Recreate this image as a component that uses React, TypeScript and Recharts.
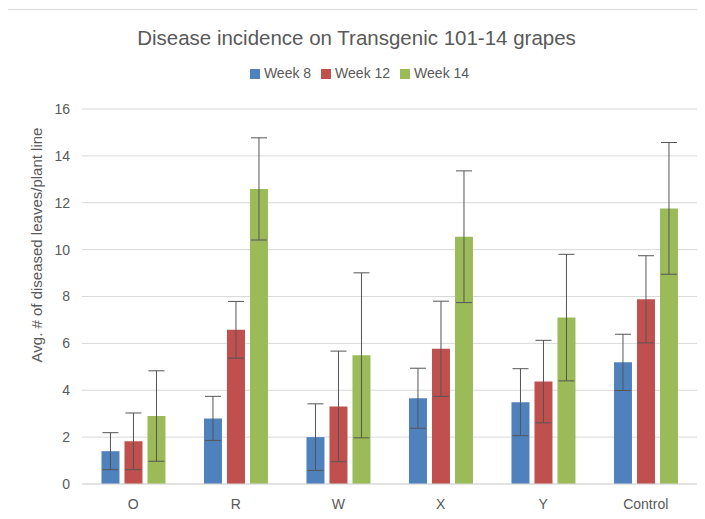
import {
  Bar,
  BarChart,
  CartesianGrid,
  ErrorBar,
  Legend,
  XAxis,
  YAxis,
} from "recharts";

const categories = ["O", "R", "W", "X", "Y", "Control"];
const week8 = [1.4, 2.8, 2.0, 3.66, 3.49, 5.19];
const week8Err = [0.79, 0.94, 1.42, 1.28, 1.43, 1.2];
const week12 = [1.82, 6.58, 3.31, 5.77, 4.37, 7.88];
const week12Err = [1.21, 1.21, 2.36, 2.03, 1.76, 1.86];
const week14 = [2.9, 12.59, 5.49, 10.55, 7.1, 11.76];
const week14Err = [1.93, 2.18, 3.52, 2.81, 2.7, 2.81];
const yTicks = [0, 2, 4, 6, 8, 10, 12, 14, 16];
const seriesNames = ["Week 8", "Week 12", "Week 14"];

const FONT = "'Liberation Sans', Arial, sans-serif";
const TEXT = "#595959";

const chartData = categories.map((c, i) => ({
  name: c,
  w8: week8[i],
  w8e: week8Err[i],
  w12: week12[i],
  w12e: week12Err[i],
  w14: week14[i],
  w14e: week14Err[i],
}));

export default function App() {
  return (
    <div
      style={{
        position: "relative",
        width: 705,
        height: 519,
        margin: -8,
        background: "#fff",
        overflow: "hidden",
        fontFamily: FONT,
      }}
    >
      {/* chart frame */}
      <div
        style={{
          position: "absolute",
          left: 5,
          top: 9,
          width: 720,
          height: 540,
          border: "1px solid #d9d9d9",
        }}
      />
      <div
        style={{
          position: "absolute",
          top: 26,
          left: 4,
          width: 705,
          textAlign: "center",
          fontSize: 20.5,
          color: TEXT,
        }}
      >
        Disease incidence on Transgenic 101-14 grapes
      </div>
      <div style={{ position: "absolute", left: 0, top: 0 }}>
        <BarChart
          width={705}
          height={519}
          data={chartData}
          margin={{ top: 109, right: 8, bottom: 5, left: 0 }}
          barCategoryGap="19%"
          barGap={5}
        >
          <CartesianGrid vertical={false} stroke="#d9d9d9" />
          <XAxis
            dataKey="name"
            axisLine={{ stroke: "#d9d9d9" }}
            tickLine={false}
            height={30}
            tickMargin={9}
            tick={{ fontSize: 14, fill: TEXT, fontFamily: FONT }}
          />
          <YAxis
            width={82}
            domain={[0, 16]}
            ticks={yTicks}
            axisLine={false}
            tickLine={false}
            tickMargin={6}
            tick={{ fontSize: 14, fill: TEXT, fontFamily: FONT }}
            label={{
              content: () => (
                <text
                  transform="translate(42, 245) rotate(-90)"
                  textAnchor="middle"
                  fontSize={15}
                  fill={TEXT}
                  fontFamily={FONT}
                >
                  Avg. # of diseased leaves/plant line
                </text>
              ),
            }}
          />
          <Legend
            verticalAlign="middle"
            layout="horizontal"
            align="center"
            iconType="square"
            iconSize={10}
            itemSorter={(item: any) => seriesNames.indexOf(item.value)}
            wrapperStyle={{ top: 65, left: 12, width: 705, fontSize: 14, fontFamily: FONT }}
            formatter={(v) => <span style={{ color: TEXT }}>{v}</span>}
          />
          <Bar dataKey="w8" name={seriesNames[0]} fill="#4f81bd" isAnimationActive={false}>
            <ErrorBar dataKey="w8e" width={8} stroke="#555" strokeWidth={1} />
          </Bar>
          <Bar dataKey="w12" name={seriesNames[1]} fill="#c0504d" isAnimationActive={false}>
            <ErrorBar dataKey="w12e" width={8} stroke="#555" strokeWidth={1} />
          </Bar>
          <Bar dataKey="w14" name={seriesNames[2]} fill="#9bbb59" isAnimationActive={false}>
            <ErrorBar dataKey="w14e" width={8} stroke="#555" strokeWidth={1} />
          </Bar>
        </BarChart>
      </div>
    </div>
  );
}
